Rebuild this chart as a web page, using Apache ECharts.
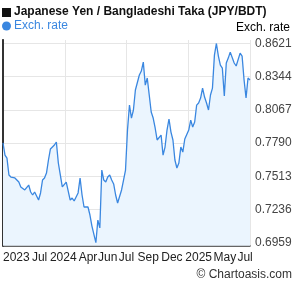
<!DOCTYPE html>
<html>
<head>
<meta charset="utf-8">
<script src="https://cdn.jsdelivr.net/npm/echarts@6.0.0/dist/echarts.min.js"></script>
<style>
  html, body { margin: 0; padding: 0; background: #fff; }
  #chart { width: 295px; height: 288px; }
</style>
</head>
<body>
<div id="chart"></div>
<script>
// JPY/BDT exchange rate (one point every ~2 px)
var rates = [
  0.7791, 0.7690, 0.7665, 0.7524, 0.7507, 0.7507, 0.7499, 0.7482, 0.7465, 0.7424,
  0.7432, 0.7399, 0.7399, 0.7440, 0.7382, 0.7357, 0.7382, 0.7349, 0.7315, 0.7374,
  0.7482, 0.7499, 0.7540, 0.7649, 0.7741, 0.7732, 0.7774, 0.7799, 0.7624, 0.7524,
  0.7424, 0.7424, 0.7465, 0.7465, 0.7315, 0.7332, 0.7307, 0.7315, 0.7374, 0.7499,
  0.7357, 0.7257, 0.7257, 0.7257, 0.7190, 0.7098, 0.7082, 0.6959, 0.7148, 0.7082,
  0.7565, 0.7482, 0.7465, 0.7507, 0.7524, 0.7482, 0.7449, 0.7357, 0.7290, 0.7298,
  0.7399, 0.7482, 0.7565, 0.7899, 0.8107, 0.7999, 0.8066, 0.8233, 0.8233, 0.8358,
  0.8391, 0.8466, 0.8274, 0.8333, 0.8191, 0.8049, 0.7999, 0.7916, 0.7816, 0.7816,
  0.7857, 0.7690, 0.7757, 0.7899, 0.7991, 0.7882, 0.7816, 0.7649, 0.7582, 0.7624,
  0.7757, 0.7715, 0.7824, 0.7832, 0.7899, 0.7982, 0.7924, 0.7966, 0.8107, 0.8124,
  0.8166, 0.8249, 0.8174, 0.8124, 0.8066, 0.8191, 0.8249, 0.8524, 0.8621, 0.8516,
  0.8441, 0.8416, 0.8183, 0.8458, 0.8499, 0.8549, 0.8541, 0.8458, 0.8433, 0.8441,
  0.8541, 0.8516, 0.8316, 0.8166, 0.8333, 0.8316
];

// y axis tick labels
var yTicks = [0.6959, 0.7236, 0.7513, 0.7790, 0.8067, 0.8344, 0.8621];

// x axis labels and where they sit (in point index units)
var xLabels = ['2023', 'Jul', '2024', 'Apr', 'Jun', 'Jul', 'Sep', 'Dec', '2025', 'May', 'Jul'];
var xLabelPos = [6.75, 18.5, 30.5, 43, 53, 62.5, 73.5, 85.5, 99, 112.25, 122.5];

var lineColor = '#3a87e0';
var font = '"Liberation Sans", Arial, sans-serif';

var seriesData = rates.map(function (v, i) { return [i, v]; });
var lastIdx = rates.length - 1;

var chart = echarts.init(document.getElementById('chart'));
chart.setOption({
  animation: false,
  textStyle: { fontFamily: font },
  grid: { left: 1, right: 45, top: 40, height: 205.7 },
  graphic: [
    { type: 'rect', left: 2, top: 8, shape: { width: 9, height: 9 }, style: { fill: '#111' } },
    { type: 'text', left: 14, top: 6, style: { text: 'Japanese Yen / Bangladeshi Taka (JPY/BDT)', font: 'bold 12px ' + font, fill: '#111' } },
    { type: 'text', right: 5, top: 22, style: { text: 'Exch. rate', font: '12px ' + font, fill: '#000' } },
    { type: 'text', right: 3, top: 269, style: { text: '\u00a9 Chartoasis.com', font: '12px ' + font, fill: '#333' } }
  ],
  legend: {
    left: 2, top: 20, padding: 0,
    icon: 'circle', itemWidth: 9, itemHeight: 9, itemGap: 4,
    textStyle: { color: lineColor, fontSize: 12, fontFamily: font, padding: [0, 0, 0, -2] },
    data: ['Exch. rate']
  },
  xAxis: {
    type: 'value',
    min: 0,
    max: lastIdx,
    interval: lastIdx / 4,
    axisLine: { show: true, lineStyle: { color: '#333', width: 1.5 } },
    axisTick: { show: false },
    splitLine: { show: true, lineStyle: { color: '#e6e6e6', width: 1 } },
    axisLabel: {
      customValues: xLabelPos,
      hideOverlap: false,
      margin: 6,
      color: '#222',
      fontSize: 12,
      fontFamily: font,
      formatter: function (v) {
        var k = xLabelPos.indexOf(v);
        return k >= 0 ? xLabels[k] : '';
      }
    }
  },
  yAxis: [{
    type: 'value',
    position: 'right',
    min: 0.6934,
    max: 0.8650,
    axisLine: { show: true, lineStyle: { color: '#333', width: 1.5 } },
    axisTick: { show: false, customValues: yTicks },
    splitLine: { show: true, lineStyle: { color: '#e6e6e6', width: 1 } },
    axisLabel: {
      customValues: yTicks,
      margin: 5,
      color: '#444',
      fontSize: 12,
      fontFamily: font,
      formatter: function (v) { return v.toFixed(4); }
    }
  }, {
    type: 'value',
    position: 'left',
    min: 0.6934,
    max: 0.8650,
    axisLine: { show: true, lineStyle: { color: '#333', width: 2 } },
    axisTick: { show: false },
    splitLine: { show: false },
    axisLabel: { show: false }
  }],
  series: [{
    name: 'Exch. rate',
    type: 'line',
    data: seriesData,
    yAxisIndex: 0,
    symbol: 'none',
    color: lineColor,
    lineStyle: { color: lineColor, width: 1.3 },
    areaStyle: { color: '#ebf5fe', opacity: 1 }
  }]
});
</script>
</body>
</html>
